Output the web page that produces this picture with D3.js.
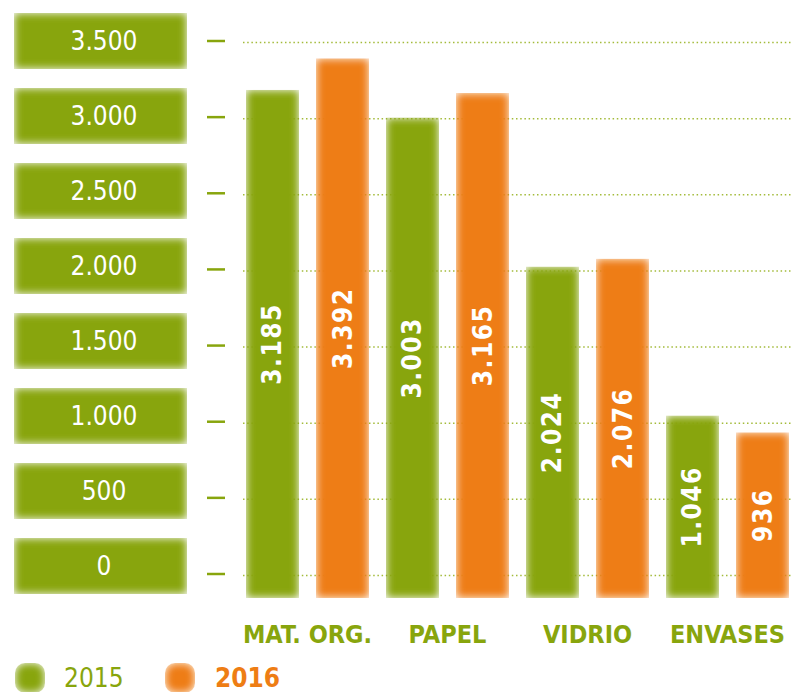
<!DOCTYPE html>
<html>
<head>
<meta charset="utf-8">
<script src="https://cdn.jsdelivr.net/npm/d3@7"></script>
<style>
  body { margin: 0; background: #fff; }
  text { font-family: "DejaVu Sans Condensed", "DejaVu Sans", sans-serif; }
</style>
</head>
<body>
<div id="chart"></div>
<script>
const categories = ["MAT. ORG.", "PAPEL", "VIDRIO", "ENVASES"];
const years = ["2015", "2016"];
const values2015 = [3185, 3003, 2024, 1046];
const values2016 = [3392, 3165, 2076, 936];
const tickValues = [0, 500, 1000, 1500, 2000, 2500, 3000, 3500];

const green = "#88a50d";
const orange = "#ee7d14";
const colors = { "2015": green, "2016": orange };

const width = 791, height = 692;

// spanish number format: 3.185
const locale = d3.formatLocale({ decimal: ",", thousands: ".", grouping: [3], currency: ["", "€"] });
const fmt = locale.format(",d");

const svg = d3.select("#chart")
  .append("svg")
  .attr("width", width)
  .attr("height", height);

// soft faded edges on boxes and bars
const defs = svg.append("defs");
const soft = defs.append("filter").attr("id", "soft")
  .attr("x", "-10%").attr("y", "-10%").attr("width", "120%").attr("height", "120%");
soft.append("feGaussianBlur").attr("in", "SourceGraphic").attr("stdDeviation", 4.5).attr("result", "b");
soft.append("feComposite").attr("in", "b").attr("in2", "SourceAlpha").attr("operator", "in");

// scales
const y = d3.scaleLinear().domain([0, 3500]).range([575, 42]);
const yBox = d3.scaleLinear().domain([0, 3500]).range([566, 41]);
const baseDrop = 23;

const x0 = d3.scaleBand().domain(categories).range([246, 806]);
const x1 = d3.scaleBand().domain(years).range([0, 123]).paddingInner(0.243);

// gridlines
svg.append("g")
  .selectAll("line")
  .data(tickValues)
  .join("line")
  .attr("x1", 243).attr("x2", width)
  .attr("y1", d => y(d) + 0.5).attr("y2", d => y(d) + 0.5)
  .attr("stroke", "#a3bb3a")
  .attr("stroke-width", 1.5)
  .attr("stroke-dasharray", "1.5,2.7");

// tick marks
svg.append("g")
  .selectAll("line")
  .data(tickValues)
  .join("line")
  .attr("x1", 207).attr("x2", 225)
  .attr("y1", d => y(d) - 1).attr("y2", d => y(d) - 1)
  .attr("stroke", green)
  .attr("stroke-width", 2.5);

// y labels in green boxes
const boxes = svg.append("g")
  .selectAll("g")
  .data(tickValues)
  .join("g")
  .attr("transform", d => "translate(14," + (yBox(d) - 28) + ")");
boxes.append("rect")
  .attr("width", 173).attr("height", 56)
  .attr("fill", green)
  .attr("filter", "url(#soft)");
boxes.append("text")
  .attr("x", 90).attr("y", 37)
  .attr("text-anchor", "middle")
  .attr("fill", "#fff")
  .attr("font-size", 26)
  .text(d => fmt(d));

// bars
const data = categories.map((c, i) => ({
  category: c,
  values: [{ year: "2015", value: values2015[i] }, { year: "2016", value: values2016[i] }]
}));

const groups = svg.append("g")
  .selectAll("g")
  .data(data)
  .join("g")
  .attr("transform", d => "translate(" + x0(d.category) + ",0)");

const bars = groups.selectAll("g")
  .data(d => d.values)
  .join("g");

bars.append("rect")
  .attr("x", d => x1(d.year))
  .attr("y", d => y(d.value))
  .attr("width", x1.bandwidth())
  .attr("height", d => y(0) + baseDrop - y(d.value))
  .attr("fill", d => colors[d.year])
  .attr("filter", "url(#soft)");

bars.append("text")
  .attr("transform", d => {
    let cx = x1(d.year) + x1.bandwidth() / 2;
    let cy = (y(d.value) + y(0) + baseDrop) / 2;
    return "translate(" + (cx + 9) + "," + cy + ") rotate(-90)";
  })
  .attr("text-anchor", "middle")
  .attr("fill", "#fff")
  .attr("font-size", 26)
  .attr("font-weight", 600)
  .attr("letter-spacing", 1.5)
  .text(d => fmt(d.value));

// category labels
svg.append("g")
  .selectAll("text")
  .data(categories)
  .join("text")
  .attr("x", d => x0(d) + 61.5)
  .attr("y", 643)
  .attr("text-anchor", "middle")
  .attr("fill", green)
  .attr("font-size", 25)
  .attr("font-weight", "bold")
  .text(d => d);

// legend
const legend = svg.append("g")
  .selectAll("g")
  .data(years)
  .join("g")
  .attr("transform", (d, i) => "translate(" + (15 + i * 150) + ",663)");
legend.append("rect")
  .attr("width", 30).attr("height", 30)
  .attr("rx", 10)
  .attr("fill", d => colors[d])
  .attr("filter", "url(#soft)");
legend.append("text")
  .attr("x", (d, i) => i === 0 ? 49 : 50)
  .attr("y", 24)
  .attr("fill", d => colors[d])
  .attr("font-size", 26)
  .attr("font-weight", (d, i) => i === 0 ? "normal" : "bold")
  .text(d => d);
</script>
</body>
</html>
